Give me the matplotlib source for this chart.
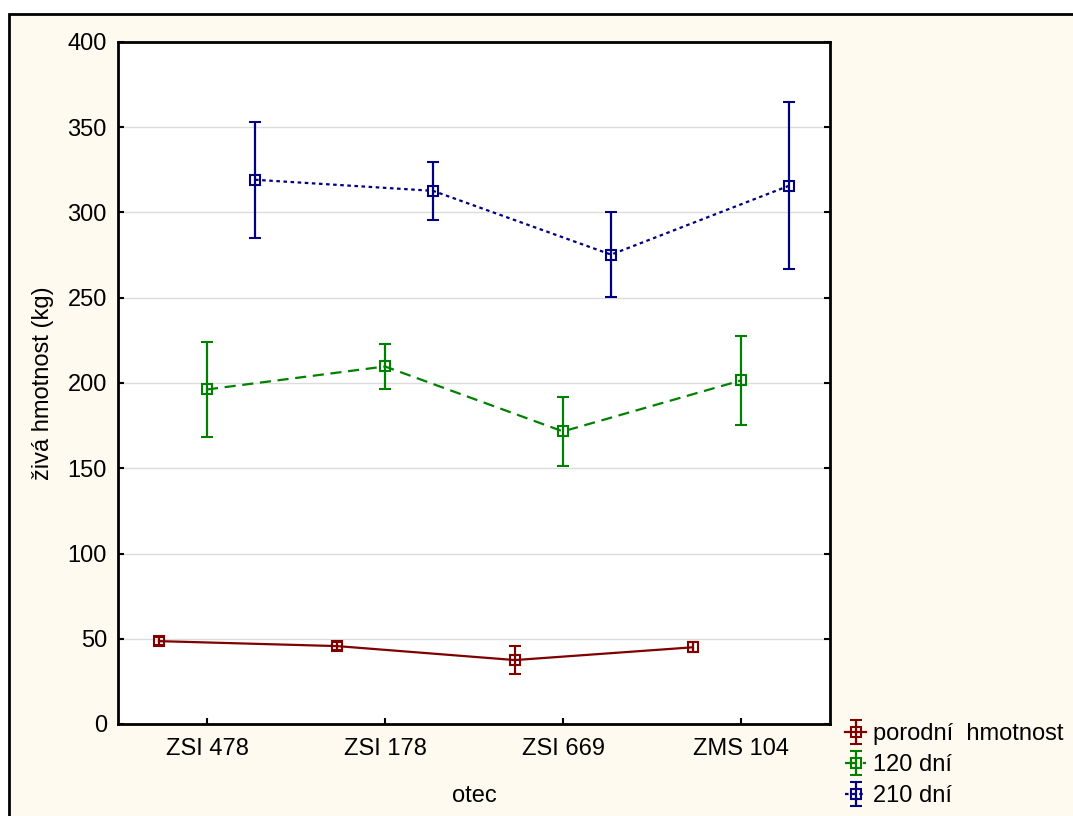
import matplotlib
matplotlib.use("Agg")
import matplotlib.pyplot as plt
from matplotlib.patches import Rectangle
import numpy as np

plt.rcParams['font.family'] = ['Liberation Sans', 'DejaVu Sans']

categories = ["ZSI 478", "ZSI 178", "ZSI 669", "ZMS 104"]
series_names = ["porodní  hmotnost", "120 dní", "210 dní"]
birth_mean = [48.6, 45.7, 37.5, 45.0]
birth_err = [2.5, 2.5, 8.0, 3.0]
d120_mean = [196.2, 209.7, 171.6, 201.5]
d120_err = [28.0, 13.0, 20.0, 26.0]
d210_mean = [319.2, 312.7, 275.3, 315.7]
d210_err = [34.0, 17.0, 25.0, 49.0]
yticks = [0, 50, 100, 150, 200, 250, 300, 350, 400]

bg = "#fffaf0"
fig = plt.figure(figsize=(10.73, 8.16), dpi=100)
fig.patch.set_facecolor("white")
W, H = 1073, 816
frame = Rectangle((9 / W, -0.1), 1.2, (H - 14) / H + 0.1,
                  transform=fig.transFigure, facecolor=bg,
                  edgecolor="black", linewidth=2, zorder=-10)
fig.add_artist(frame)

ax = fig.add_axes([118 / W, (H - 724) / H, (830 - 118) / W, (724 - 42) / H])
ax.set_facecolor("white")

x = np.arange(len(categories))
offs = [-0.27, 0.0, 0.27]
specs = [
    (birth_mean, birth_err, "#800000", "-"),
    (d120_mean, d120_err, "#008000", (0, (5, 3))),
    (d210_mean, d210_err, "#000080", (0, (1.6, 1.6))),
]
handles = []
for (m, e, c, ls), off, name in zip(specs, offs, series_names):
    h = ax.errorbar(x + off, m, yerr=e, color=c, linestyle=ls, linewidth=1.6,
                    elinewidth=1.6, capsize=4, capthick=1.6, marker="s",
                    markersize=7, markerfacecolor="none", markeredgewidth=1.5,
                    markeredgecolor=c, label=name, zorder=3)
    handles.append(h)

ax.set_xlim(-0.5, 3.5)
ax.set_ylim(0, 400)
ax.set_xticks(x)
ax.set_xticklabels(categories)
ax.set_yticks(yticks)
ax.yaxis.grid(True, color="#dcdcdc", linewidth=1)
ax.set_axisbelow(True)
ax.tick_params(axis="both", direction="in", length=4, width=1.5,
               labelsize=17, colors="black")
ax.tick_params(axis="y", right=True, pad=8)
ax.tick_params(axis="x", pad=10)
for s in ax.spines.values():
    s.set_linewidth(2)
ax.set_xlabel("otec", fontsize=17, labelpad=18)
ax.set_ylabel("živá hmotnost (kg)", fontsize=17, labelpad=10)

leg = fig.legend(handles=handles, labels=series_names, loc="lower left",
                 bbox_to_anchor=(845 / W, (H - 807) / H), frameon=False,
                 fontsize=17, handlelength=0.9, handletextpad=0.3,
                 labelspacing=0.38, borderaxespad=0, borderpad=0)
fig.savefig("out.png", dpi=100, facecolor=fig.get_facecolor())
